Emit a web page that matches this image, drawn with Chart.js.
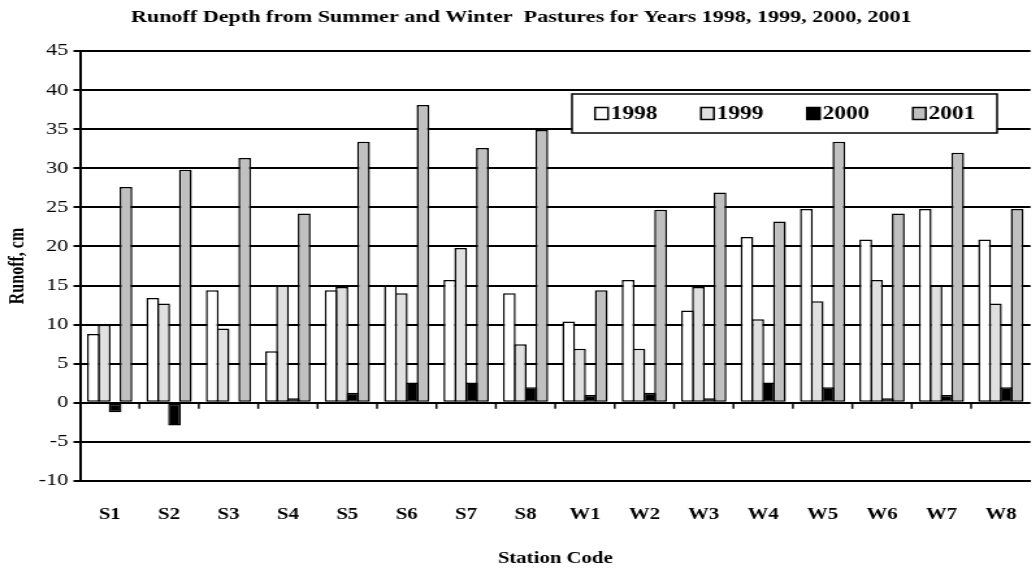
<!DOCTYPE html>
<html><head><meta charset="utf-8">
<script src="https://cdn.jsdelivr.net/npm/chart.js@4.4.1/dist/chart.umd.min.js"></script>
<style>
html,body{margin:0;padding:0;background:#fff;overflow:hidden;width:1032px;height:575px;}
#wrap{position:absolute;left:0;top:0;width:806px;height:575px;transform:scaleX(1.3);transform-origin:0 0;}
canvas{display:block;}
</style></head><body>
<div id="wrap"><canvas id="c" width="806" height="575"></canvas></div>
<script>
const stations = ['S1','S2','S3','S4','S5','S6','S7','S8','W1','W2','W3','W4','W5','W6','W7','W8'];
const years = ['1998','1999','2000','2001'];
const runoff1998 = [8.8, 13.4, 14.4, 6.6, 14.4, 15.0, 15.7, 14.0, 10.4, 15.7, 11.8, 21.2, 24.8, 20.9, 24.8, 20.9];
const runoff1999 = [10.0, 12.7, 9.5, 15.0, 14.8, 14.0, 19.8, 7.5, 6.9, 6.9, 14.8, 10.7, 13.0, 15.7, 15.0, 12.7];
const runoff2000 = [-1.2, -2.9, 0, 0.6, 1.3, 2.6, 2.6, 2.0, 1.0, 1.3, 0.6, 2.6, 2.0, 0.6, 1.0, 2.0];
const runoff2001 = [27.6, 29.8, 31.3, 24.2, 33.4, 38.1, 32.6, 34.9, 14.4, 24.7, 26.9, 23.2, 33.4, 24.2, 32.0, 24.8];
const yMin = -10, yMax = 45, yStep = 5;
const fills = ['#ffffff', '#e0e0e0', '#000000', '#c0c0c0'];
const seriesValues = [runoff1998, runoff1999, runoff2000, runoff2001];

const FONT = '"Liberation Serif", "Times New Roman", serif';
Chart.defaults.font.family = FONT;
Chart.defaults.color = '#000';

const zeroTicks = {
  id: 'zeroTicks',
  afterDatasetsDraw(chart) {
    const ctx = chart.ctx, xs = chart.scales.x, ys = chart.scales.y;
    const y0 = ys.getPixelForValue(0);
    ctx.save();
    ctx.strokeStyle = '#000';
    ctx.lineWidth = 1.5;
    for (let i = 1; i < stations.length; i++) {
      const x = (xs.getPixelForValue(i - 1) + xs.getPixelForValue(i)) / 2;
      ctx.beginPath();
      ctx.moveTo(x, y0);
      ctx.lineTo(x, y0 + 6);
      ctx.stroke();
    }
    ctx.restore();
  }
};

const legendBox = {
  id: 'legendBox',
  afterDraw(chart) {
    const ctx = chart.ctx, a = chart.chartArea;
    const L = a.left + 378.5, T = a.top + 43, W = 327, H = 39;
    ctx.save();
    ctx.fillStyle = '#fff';
    ctx.fillRect(L, T, W, H);
    ctx.strokeStyle = '#000';
    ctx.lineWidth = 1.5;
    ctx.strokeRect(L, T, W, H);
    ctx.font = 'bold 18px ' + FONT;
    ctx.textBaseline = 'middle';
    chart.data.datasets.forEach((ds, i) => {
      const x = L + 17.7 + i * 81.5, y = T + H / 2;
      ctx.fillStyle = ds.backgroundColor;
      ctx.fillRect(x, y - 6, 10, 12);
      ctx.lineWidth = 1.5;
      ctx.strokeRect(x, y - 6, 10, 12);
      ctx.fillStyle = '#000';
      ctx.fillText(ds.label, x + 12, y + 1);
    });
    ctx.restore();
  }
};

new Chart(document.getElementById('c'), {
  type: 'bar',
  data: {
    labels: stations,
    datasets: years.map((yr, i) => ({
      label: yr,
      data: seriesValues[i],
      backgroundColor: fills[i],
      borderColor: '#000',
      borderWidth: 1.5,
      borderSkipped: false,
      categoryPercentage: 0.73,
      barPercentage: 1.18
    }))
  },
  options: {
    responsive: false,
    animation: false,
    devicePixelRatio: 1,
    layout: { padding: { left: 0, right: 4, top: 0, bottom: 3 } },
    plugins: {
      legend: { display: false },
      tooltip: { enabled: false },
      title: {
        display: true,
        text: 'Runoff Depth from Summer and Winter  Pastures for Years 1998, 1999, 2000, 2001',
        color: '#000',
        font: { size: 17, weight: 'bold' },
        padding: { top: 7, bottom: 23.6 }
      }
    },
    scales: {
      x: {
        grid: { display: false, drawTicks: false },
        border: { display: true, color: '#000', width: 2 },
        ticks: { color: '#000', font: { size: 16, weight: 'bold' }, padding: 24, maxRotation: 0, autoSkip: false },
        title: { display: true, text: 'Station Code', color: '#000', font: { size: 16, weight: 'bold' }, padding: { top: 24, bottom: 4 } },
        afterFit(s) { s.height = 91; }
      },
      y: {
        min: yMin, max: yMax,
        ticks: { stepSize: yStep, color: '#000', font: { size: 17 }, padding: 4, callback: v => String(v) },
        grid: { color: '#000', lineWidth: 2, tickLength: 5 },
        border: { display: true, color: '#000', width: 2 },
        title: { display: true, text: 'Runoff, cm', color: '#000', font: { size: 16, weight: 'bold' }, padding: { top: 4, bottom: 0 } },
        afterFit(s) { s.width = 61.5; }
      }
    }
  },
  plugins: [zeroTicks, legendBox]
});
</script>
</body></html>
